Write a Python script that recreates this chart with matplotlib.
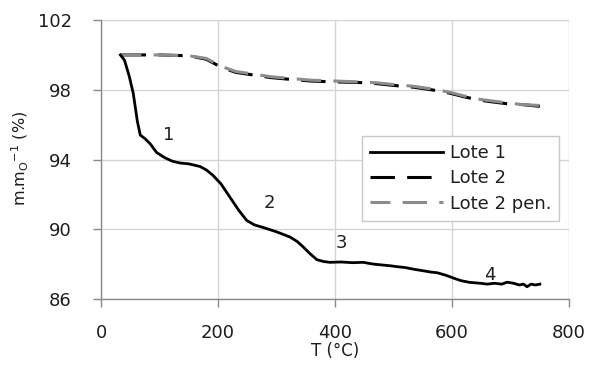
import matplotlib as mpl
import matplotlib.pyplot as plt

mpl.rcParams['font.family'] = ['DejaVu Sans']
mpl.rcParams['mathtext.fontset'] = 'dejavusans'

# mass loss curves (T in °C, residual mass in %)
t_lote1 = [33, 40, 48, 55, 62, 67, 75, 84, 95, 109, 122, 135, 150, 169, 180, 191,
           205, 220, 235, 249, 262, 277, 300, 323, 335, 345, 357, 369, 380, 391,
           410, 430, 448, 465, 480, 495, 506, 520, 535, 550, 562, 575, 590, 602,
           615, 630, 648, 660, 672, 685, 694, 705, 715, 722, 728, 735, 742, 750]
m_lote1 = [100.0, 99.7, 98.8, 97.8, 96.2, 95.4, 95.2, 94.9, 94.4, 94.1, 93.9, 93.8,
           93.75, 93.6, 93.4, 93.1, 92.6, 91.85, 91.1, 90.5, 90.25, 90.1, 89.85,
           89.55, 89.3, 89.0, 88.6, 88.25, 88.15, 88.1, 88.12, 88.08, 88.1, 88.0,
           87.95, 87.9, 87.85, 87.8, 87.7, 87.62, 87.55, 87.5, 87.35, 87.2, 87.05,
           86.95, 86.9, 86.85, 86.9, 86.85, 86.96, 86.9, 86.8, 86.85, 86.7, 86.85,
           86.8, 86.85]

t_lote2 = [35, 60, 100, 150, 180, 205, 230, 260, 290, 323, 360, 403, 440, 472,
           500, 534, 565, 597, 620, 648, 670, 694, 720, 750]
m_lote2 = [100.0, 100.0, 100.0, 99.95, 99.75, 99.3, 99.0, 98.85, 98.7, 98.6, 98.5,
           98.45, 98.42, 98.35, 98.25, 98.15, 98.0, 97.8, 97.6, 97.4, 97.3, 97.2,
           97.15, 97.05]
m_lote2_pen = [100.0, 100.0, 100.0, 99.95, 99.8, 99.35, 99.05, 98.9, 98.75, 98.65,
               98.55, 98.5, 98.45, 98.4, 98.3, 98.2, 98.05, 97.85, 97.65, 97.45,
               97.35, 97.25, 97.15, 97.1]

stage_labels = ['1', '2', '3', '4']
stage_t = [115, 287, 410, 665]
stage_m = [95.4, 91.5, 89.2, 87.4]

x_ticks = [0, 200, 400, 600, 800]
y_ticks = [86, 90, 94, 98, 102]

txt = '#1e1e1e'
fig = plt.figure(figsize=(5.91, 3.65), dpi=100)
ax = fig.add_axes([0.171, 0.181, 0.792, 0.764])

ax.plot(t_lote2, m_lote2, color='black', lw=2.2, linestyle=(0, (8, 4)), label='Lote 2')
ax.plot(t_lote2, m_lote2_pen, color='#8c8c8c', lw=2.2, linestyle=(1.5, (8, 4)),
        label='Lote 2 pen.')
ax.plot(t_lote1, m_lote1, color='black', lw=2.0, label='Lote 1', zorder=3)

for s, tx, my in zip(stage_labels, stage_t, stage_m):
    ax.text(tx, my, s, fontsize=13, color=txt, ha='center', va='center')

ax.set_xlim(0, 800)
ax.set_ylim(86, 102)
ax.set_xticks(x_ticks)
ax.set_yticks(y_ticks)
ax.grid(True, color='#d4d4d4', lw=1.0)
ax.set_axisbelow(True)
for side in ['top', 'right']:
    ax.spines[side].set_visible(False)
for side in ['left', 'bottom']:
    ax.spines[side].set_color('#8a8a8a')
    ax.spines[side].set_linewidth(1.0)
ax.tick_params(direction='out', length=6, width=1.0, color='#8a8a8a',
               labelsize=13, labelcolor=txt)
ax.tick_params(axis='x', pad=12)
ax.tick_params(axis='y', pad=15)

ax.set_xlabel('T (°C)', fontsize=12, color=txt, labelpad=0)
ax.set_ylabel(r'm.m$_{\mathrm{O}}$$^{\mathrm{-1}}$ (%)', fontsize=11.5, color=txt)
ax.yaxis.set_label_coords(-0.15, 0.505)

handles, labels = ax.get_legend_handles_labels()
order = [2, 0, 1]
leg = ax.legend([handles[i] for i in order], [labels[i] for i in order],
                loc='upper left', bbox_to_anchor=(0.558, 0.584), fontsize=13,
                handlelength=4.0, handletextpad=0.4, labelspacing=0.4,
                borderpad=0.45, borderaxespad=0, fancybox=False, framealpha=1)
leg.get_frame().set_edgecolor('#c8c8c8')
leg.get_frame().set_linewidth(1.0)
for t in leg.get_texts():
    t.set_color(txt)

fig.savefig('out.png', dpi=100)
